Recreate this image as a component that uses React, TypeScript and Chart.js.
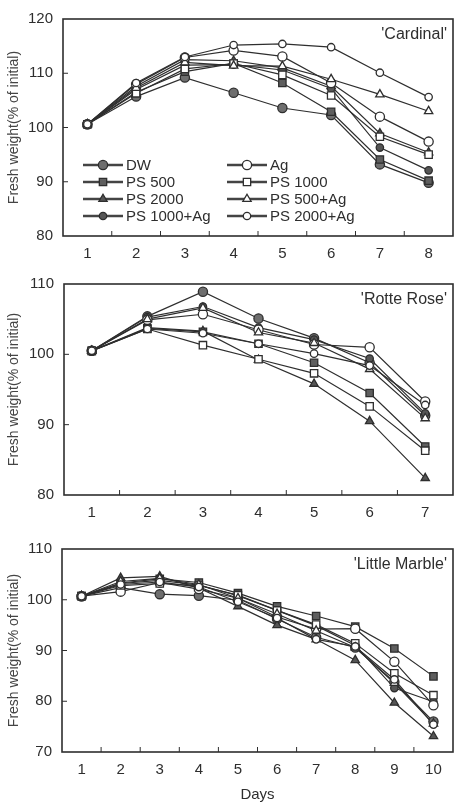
import React, { useEffect, useRef } from 'react';
import { Chart, registerables } from 'chart.js';
Chart.register(...registerables);

// ---------- DATA ----------
const seriesNames = ['DW', 'PS 500', 'PS 2000', 'PS 1000+Ag', 'Ag', 'PS 1000', 'PS 500+Ag', 'PS 2000+Ag'];

const cardinalDays = ['1', '2', '3', '4', '5', '6', '7', '8'];
const cardinalDW = [100.6, 105.7, 109.2, 106.4, 103.6, 102.3, 93.2, 89.8];
const cardinalPS500 = [100.6, 106.5, 110.3, 111.8, 108.2, 102.9, 94.1, 90.2];
const cardinalPS2000 = [100.6, 107.6, 112.5, 112.3, 111.0, 107.6, 98.9, 95.4];
const cardinalPS1000Ag = [100.6, 107.0, 111.5, 111.6, 110.6, 107.2, 96.3, 92.1];
const cardinalAg = [100.6, 108.0, 112.9, 114.2, 113.1, 108.2, 102.0, 97.4];
const cardinalPS1000 = [100.6, 106.3, 110.8, 111.8, 109.7, 105.9, 98.3, 95.0];
const cardinalPS500Ag = [100.6, 107.3, 112.0, 111.4, 111.3, 108.9, 106.1, 103.0];
const cardinalPS2000Ag = [100.6, 108.2, 113.0, 115.2, 115.4, 114.8, 110.1, 105.6];

const rotteDays = ['1', '2', '3', '4', '5', '6', '7'];
const rotteDW = [100.5, 105.4, 108.9, 105.1, 102.3, 98.8, 91.3];
const rottePS500 = [100.5, 103.7, 103.2, 101.5, 98.8, 94.5, 86.9];
const rottePS2000 = [100.5, 103.8, 103.3, 99.2, 95.8, 90.5, 82.4];
const rottePS1000Ag = [100.5, 105.3, 106.8, 103.8, 102.1, 99.4, 91.6];
const rotteAg = [100.5, 104.9, 105.7, 103.5, 101.4, 101.0, 93.3];
const rottePS1000 = [100.5, 103.6, 101.3, 99.3, 97.3, 92.6, 86.3];
const rottePS500Ag = [100.5, 105.0, 106.6, 103.1, 101.6, 97.9, 90.9];
const rottePS2000Ag = [100.5, 103.6, 103.0, 101.5, 100.1, 98.4, 92.8];

const marbleDays = ['1', '2', '3', '4', '5', '6', '7', '8', '9', '10'];
const marbleDW = [100.7, 102.4, 101.1, 100.8, 99.9, 96.2, 92.6, 90.6, 83.8, 76.0];
const marblePS500 = [100.7, 103.3, 104.1, 103.4, 101.3, 98.7, 96.8, 94.7, 90.4, 84.9];
const marblePS2000 = [100.7, 104.3, 104.6, 102.3, 98.7, 95.0, 92.2, 88.1, 79.7, 73.1];
const marblePS1000Ag = [100.7, 103.2, 103.8, 102.9, 100.8, 97.9, 94.9, 91.0, 82.6, 79.9];
const marbleAg = [100.7, 101.6, 103.4, 102.1, 100.3, 96.6, 94.2, 94.3, 87.8, 79.2];
const marblePS1000 = [100.7, 102.8, 103.2, 102.8, 100.9, 97.9, 95.1, 91.4, 85.5, 81.2];
const marblePS500Ag = [100.7, 103.6, 104.2, 103.0, 100.3, 97.2, 93.9, 90.6, 83.6, 75.6];
const marblePS2000Ag = [100.7, 103.0, 103.5, 102.5, 99.6, 96.4, 92.2, 90.8, 84.3, 75.4];

const cardinalTicks = [80, 90, 100, 110, 120];
const rotteTicks = [80, 90, 100, 110];
const marbleTicks = [70, 80, 90, 100, 110];

// ---------- STYLE ----------
const FONT = '"Liberation Sans", Arial, sans-serif';
const INK = '#2e2e2e';

type Mk = { style: 'circle' | 'rect' | 'triangle'; r: number; fill: string };
const markers: Mk[] = [
  { style: 'circle', r: 4.6, fill: '#6e6e6e' }, // DW
  { style: 'rect', r: 5.2, fill: '#5e5e5e' }, // PS 500
  { style: 'triangle', r: 4.8, fill: '#555555' }, // PS 2000
  { style: 'circle', r: 3.7, fill: '#555555' }, // PS 1000+Ag
  { style: 'circle', r: 4.6, fill: '#ffffff' }, // Ag
  { style: 'rect', r: 5.2, fill: '#ffffff' }, // PS 1000
  { style: 'triangle', r: 4.8, fill: '#ffffff' }, // PS 500+Ag
  { style: 'circle', r: 3.7, fill: '#ffffff' }, // PS 2000+Ag
];

function drawMarker(ctx: CanvasRenderingContext2D, m: Mk, x: number, y: number) {
  ctx.save();
  ctx.fillStyle = m.fill;
  ctx.strokeStyle = INK;
  ctx.lineWidth = 1.3;
  ctx.beginPath();
  if (m.style === 'circle') {
    ctx.arc(x, y, m.r, 0, Math.PI * 2);
  } else if (m.style === 'rect') {
    const s = m.r * Math.SQRT2 / 2;
    ctx.rect(x - s, y - s, 2 * s, 2 * s);
  } else {
    const r = m.r;
    ctx.moveTo(x, y - r);
    ctx.lineTo(x + r * 0.866, y + r * 0.5);
    ctx.lineTo(x - r * 0.866, y + r * 0.5);
    ctx.closePath();
  }
  ctx.fill();
  ctx.stroke();
  ctx.restore();
}

const framePlugin = {
  id: 'frame',
  afterDatasetsDraw(chart: any, _a: any, opts: any) {
    const { ctx, chartArea: ca, scales } = chart;
    ctx.save();
    ctx.strokeStyle = INK;
    ctx.lineWidth = 1.6;
    ctx.strokeRect(ca.left, ca.top, ca.right - ca.left, ca.bottom - ca.top);
    ctx.lineWidth = 1;
    const ys = scales.y;
    ys.ticks.forEach((t: any) => {
      if (t.value <= ys.min || t.value >= ys.max) return;
      const py = ys.getPixelForValue(t.value);
      ctx.beginPath();
      ctx.moveTo(ca.left, py);
      ctx.lineTo(ca.left + 5, py);
      ctx.stroke();
    });
    const xs = scales.x;
    const n = xs.ticks.length;
    for (let i = 0; i < n - 1; i++) {
      const px = (xs.getPixelForValue(i) + xs.getPixelForValue(i + 1)) / 2;
      ctx.beginPath();
      ctx.moveTo(px, ca.bottom);
      ctx.lineTo(px, ca.bottom - 5);
      ctx.stroke();
    }
    ctx.fillStyle = INK;
    ctx.font = `16px ${FONT}`;
    ctx.textAlign = 'right';
    ctx.textBaseline = 'middle';
    ctx.fillText(opts.title, ca.right - 6, ca.top + 16);
    if (opts.legend) {
      ctx.font = `15px ${FONT}`;
      ctx.textAlign = 'left';
      const rows = [71, 54, 37, 20];
      chart.data.datasets.forEach((ds: any, i: number) => {
        const col = i < 4 ? 0 : 1;
        const row = i % 4;
        const x0 = ca.left + (col === 0 ? 20 : 164);
        const y = ca.bottom - rows[row];
        ctx.strokeStyle = '#444';
        ctx.lineWidth = 2.6;
        ctx.beginPath();
        ctx.moveTo(x0, y);
        ctx.lineTo(x0 + 40, y);
        ctx.stroke();
        drawMarker(ctx, markers[i], x0 + 20, y);
        ctx.fillStyle = INK;
        ctx.fillText(ds.label, x0 + 43, y + 1);
      });
    }
    ctx.restore();
  },
};

const markerPlugin = {
  id: 'markers',
  afterDatasetsDraw(chart: any) {
    const ctx = chart.ctx;
    chart.data.datasets.forEach((_ds: any, i: number) => {
      const meta = chart.getDatasetMeta(i);
      meta.data.forEach((pt: any) => drawMarker(ctx, markers[i], pt.x, pt.y));
    });
  },
};

type PanelProps = {
  top: number;
  height: number;
  padTop: number;
  xHeight: number;
  yWidth: number;
  days: string[];
  series: number[][];
  ticks: number[];
  title: string;
  legend: boolean;
  xTitle?: string;
};

function Panel(p: PanelProps) {
  const ref = useRef<HTMLCanvasElement>(null);
  useEffect(() => {
    const datasets = p.series.map((vals, i) => ({
      label: seriesNames[i],
      data: vals,
      borderColor: INK,
      borderWidth: 1.2,
      pointRadius: 0,
      fill: false,
      tension: 0,
      clip: false as any,
    }));
    const chart = new Chart(ref.current!, {
      type: 'line',
      data: { labels: p.days, datasets },
      plugins: [markerPlugin, framePlugin],
      options: {
        responsive: false,
        animation: false,
        layout: { padding: { top: p.padTop, right: 1, left: 0, bottom: 0 } },
        plugins: {
          legend: { display: false },
          tooltip: { enabled: false },
          frame: { title: p.title, legend: p.legend },
        } as any,
        scales: {
          x: {
            type: 'category',
            offset: true,
            grid: { display: false, drawTicks: false, offset: true },
            border: { display: false },
            ticks: { color: INK, font: { family: FONT, size: 15 }, padding: 9 },
            title: p.xTitle
              ? { display: true, text: p.xTitle, color: INK, font: { family: FONT, size: 15 }, padding: { top: 0, bottom: 0 } }
              : { display: false },
            afterFit: (s: any) => { s.height = p.xHeight; },
          },
          y: {
            min: p.ticks[0],
            max: p.ticks[p.ticks.length - 1],
            afterBuildTicks: (s: any) => { s.ticks = p.ticks.map((v) => ({ value: v })); },
            grid: { display: false, drawTicks: false },
            border: { display: false },
            ticks: { color: INK, font: { family: FONT, size: 15 }, padding: 10 },
            title: { display: true, text: 'Fresh weight(% of initial)', color: '#444', font: { family: FONT, size: 14 }, padding: { top: 6, bottom: 0 } },
            afterFit: (s: any) => { s.width = p.yWidth; },
          },
        },
      } as any,
    });
    return () => chart.destroy();
  }, []);
  return (
    <canvas
      ref={ref}
      width={454}
      height={p.height}
      style={{ position: 'absolute', left: 0, top: p.top, width: 454, height: p.height }}
    />
  );
}

export default function App() {
  return (
    <div style={{ position: 'absolute', left: 0, top: 0, width: 454, height: 804, background: '#fff' }}>
      <Panel
        top={0}
        height={266}
        padTop={13}
        xHeight={30}
        yWidth={63}
        days={cardinalDays}
        series={[cardinalDW, cardinalPS500, cardinalPS2000, cardinalPS1000Ag, cardinalAg, cardinalPS1000, cardinalPS500Ag, cardinalPS2000Ag]}
        ticks={cardinalTicks}
        title="'Cardinal'"
        legend={true}
      />
      <Panel
        top={265}
        height={265}
        padTop={17}
        xHeight={35}
        yWidth={64}
        days={rotteDays}
        series={[rotteDW, rottePS500, rottePS2000, rottePS1000Ag, rotteAg, rottePS1000, rottePS500Ag, rottePS2000Ag]}
        ticks={rotteTicks}
        title="'Rotte Rose'"
        legend={false}
      />
      <Panel
        top={530}
        height={274}
        padTop={18}
        xHeight={52}
        yWidth={62}
        days={marbleDays}
        series={[marbleDW, marblePS500, marblePS2000, marblePS1000Ag, marbleAg, marblePS1000, marblePS500Ag, marblePS2000Ag]}
        ticks={marbleTicks}
        title="'Little Marble'"
        legend={false}
        xTitle="Days"
      />
    </div>
  );
}
